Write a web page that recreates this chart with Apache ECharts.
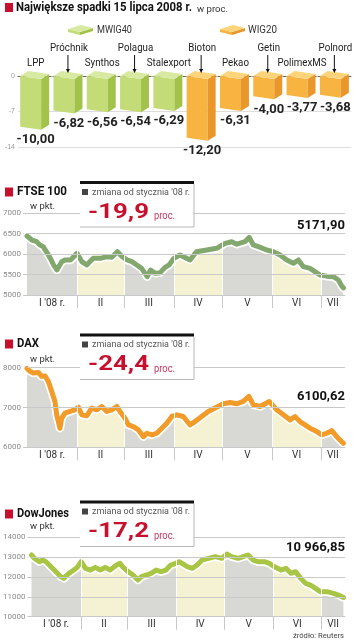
<!DOCTYPE html>
<html><head><meta charset="utf-8">
<script src="https://cdn.jsdelivr.net/npm/echarts@6/dist/echarts.min.js"></script>
<style>html,body{margin:0;padding:0;background:#fff}#c{width:353px;height:640px}</style>
</head><body><div id="c"></div><script>
// ---------- DATA ----------
const barCategories = ['LPP','Próchnik','Synthos','Polagua','Stalexport','Bioton','Pekao','Getin','PolimexMS','Polnord'];
const barValues = [-10.00,-6.82,-6.56,-6.54,-6.29,-12.20,-6.31,-4.00,-3.77,-3.68];
const barGroups = ['MWIG40','MWIG40','MWIG40','MWIG40','MWIG40','WIG20','WIG20','WIG20','WIG20','WIG20'];
const barLabelRaised = [false,true,false,true,false,true,false,true,false,true];
const barTicks = [0,-7,-14];

const monthLabels = ["I '08 r.",'II','III','IV','V','VI','VII'];
const monthStarts = [0,31,60,91,121,152,182,197]; // day-of-year boundaries

const ftseX = [0,3,6,8,10,12,14.5,16.5,18.5,19.5,21.5,23.5,27,31,34,37,41,45.5,49.5,52.5,56,59,62,65,68,71,74.5,76.5,79.5,82.5,85.5,88,91,94.8,101,105,111.3,117.5,122.7,126.8,130,135,137.7,140.2,143.3,148.5,152.6,156.8,160.9,165,168.1,171.2,175.3,178.4,181.5,185.7,189.8,192.9,195,196];
const ftseY = [6439,6341,6300,6220,6180,6057,5894,5732,5610,5650,5813,5854,5854,6016,5813,5732,5894,5894,5935,5920,6057,5935,5854,5813,5732,5650,5447,5610,5528,5545,5675,5732,5894,5976,5854,6057,6098,6138,6260,6300,6240,6300,6405,6220,6180,6098,6057,5976,5854,5772,5854,5691,5650,5569,5488,5460,5447,5366,5220,5171.90];

const daxX = [0,1.9,3.9,7,9.1,11.2,13.2,15.3,17.3,18.4,20.4,21.5,23.5,26.6,29.7,31.8,33.9,37,40.1,43.2,46.3,49.4,52.5,55.6,57.6,60.7,62.8,65.9,69,72.1,74.2,77.3,80.4,83.5,86.6,89.7,92.8,96.8,101,104.1,108.2,112.3,116.5,121.6,125.8,129.9,134,137.5,140.2,144.4,150.1,154.7,158.8,163,166,169.1,172.2,175.3,179.5,182.6,185.7,188.8,191.9,195,196];
const daxY = [7980,7909,7868,7880,7783,7790,7657,7404,7152,6816,6480,6732,6859,6900,6942,7010,6816,6790,6985,6942,7026,6900,6942,7026,6900,6732,6563,6521,6437,6268,6353,6311,6353,6480,6605,6774,6816,6774,6563,6647,6774,6900,6985,7093,7127,7093,7152,7278,7068,7026,7152,6942,6816,6689,6774,6647,6563,6480,6395,6311,6353,6420,6268,6140,6100.62];

const djX = [0,1.9,5,7,9.1,11.2,13.2,16.3,18.4,20.4,23.5,26.6,28.7,31.2,33.9,37,40.1,43.2,46.3,49.4,53.5,55.6,57.6,60.7,63.8,66.9,69,72.1,75.2,78.3,81.4,84.5,87.5,90.6,92.8,97.9,101,104.1,107.2,111.3,115.4,119.6,122.7,125.8,129.9,133,136.1,139.2,142.3,146.4,149.5,152.6,156.8,159.9,163,166,169.1,172.2,175.3,178.4,181.5,185.7,189.8,192.9,196];
const djY = [13108,12940,12771,12855,12771,12604,12436,12184,12016,11932,12184,12352,12486,12771,12436,12352,12486,12352,12486,12352,12604,12687,12486,12268,12100,11848,12016,12100,12184,12352,12268,12352,12604,12687,12771,12519,12436,12604,12855,12940,13024,12940,13158,13024,12940,13024,13108,12855,12771,12771,12687,12519,12352,12436,12184,12268,11932,11680,11596,11428,11260,11260,11176,11092,10966.85];

const ftseTicks = [5000,5500,6000,6500,7000];
const daxTicks = [6000,7000,8000];
const djTicks = [10000,11000,12000,13000,14000];

// ---------- STYLE ----------
const FONT = 'Roboto';
const RED = '#c8102e';
const bandGray = '#d8d8d4', bandYellow = '#f4f2d2';
const cubeColors = {
  MWIG40: {top:'#d8eaa2', front:'#c3dc78', side:'#a3c249'},
  WIG20: {top:'#fdd47a', front:'#f7b440', side:'#e9962a'}
};
const mctx = document.createElement('canvas').getContext('2d');
function fitScale(text, font, w){ mctx.font = font; const m = mctx.measureText(text).width; return m ? w / m : 1; }

function pairs(xs, ys){ return xs.map((x,i)=>[x, ys[i]]); }

const chart = echarts.init(document.getElementById('c'), null, {renderer:'canvas'});

const nameFont = '10.5px ' + FONT;
const nameScale = fitScale('Próchnik', nameFont, 38);

function renderCube(params, api){
  const i = api.value(0), v = api.value(1);
  const p0 = api.coord([i, 0]), p1 = api.coord([i, v]);
  const cx = p0[0], yt = p0[1], yb = p1[1];
  const fw = 21, sw = 8, s1 = 3, s2 = 5;
  const xL = cx - (fw+sw)/2, xM = xL + fw, xR = xM + sw;
  const c = cubeColors[barGroups[i]];
  const children = [
    {type:'polygon', shape:{points:[[xL,yt],[xM,yt+s1],[xM,yb+s1],[xL,yb]]}, style:{fill:c.front}},
    {type:'polygon', shape:{points:[[xM,yt+s1],[xR,yt+s1-s2],[xR,yb+s1-s2],[xM,yb+s1]]}, style:{fill:c.side}},
    {type:'polygon', shape:{points:[[xL,yt],[xM,yt+s1],[xR,yt+s1-s2],[xL+sw,yt-s2]]}, style:{fill:c.top}},
    {type:'text', x:cx+1, y:yb+13, style:{text: v.toFixed(2).replace('.',','), font:'bold 13px '+FONT, fill:'#222', align:'center', verticalAlign:'middle'}}
  ];
  const raised = barLabelRaised[i];
  children.push({type:'text', x:cx+1, y: yt + (raised ? -28 : -13), scaleX:nameScale, style:{text: barCategories[i], font:nameFont, fill:'#222', align:'center', verticalAlign:'middle'}});
  if (raised) {
    children.push({type:'line', shape:{x1:cx, y1:yt-21, x2:cx, y2:yt-6}, style:{stroke:'#111', lineWidth:1}});
    children.push({type:'polygon', shape:{points:[[cx-2,yt-7],[cx+2,yt-7],[cx,yt-3]]}, style:{fill:'#111'}});
  }
  return {type:'group', children};
}

const panels = [
  {x: ftseX, y: ftseY, ticks: ftseTicks, min:5000, max:7000, interval:500, top:213, height:82, color:'#82a86e'},
  {x: daxX, y: daxY, ticks: daxTicks, min:6000, max:8000, interval:1000, top:367.7, height:79.6, color:'#f29b28'},
  {x: djX, y: djY, ticks: djTicks, min:10000, max:14000, interval:1000, top:537.3, height:79.4, color:'#a8c544'}
];

const grids = [{left:18, right:2, top:76, height:71}];
const xAxes = [{gridIndex:0, type:'category', data:barCategories, axisLine:{onZero:true, lineStyle:{color:'#666', type:[3,2], width:1}}, axisTick:{show:false}, axisLabel:{show:false}}];
const yAxes = [{gridIndex:0, type:'value', min:-14, max:0, interval:7, axisLine:{show:false}, axisTick:{show:false},
  splitLine:{show:true, lineStyle:{color:'#ddd'}}, axisLabel:{fontSize:7, color:'#999', margin:3, formatter:v=>String(v)}}];
const series = [{type:'custom', xAxisIndex:0, yAxisIndex:0, clip:false, renderItem:renderCube, data: barValues.map((v,i)=>[i,v]), z:5}];
const visualMaps = [];

const mids = monthStarts.slice(0,-1).map((s,i)=>(s+monthStarts[i+1])/2);
panels.forEach((p, k) => {
  const gi = k+1;
  grids.push({left:27, right:8, top:p.top, height:p.height});
  xAxes.push({gridIndex:gi, type:'value', min:0, max:197,
    axisLine:{show:true, onZero:false, lineStyle:{color:'#c4c4c4'}},
    splitLine:{show:false},
    axisTick:{show:true, customValues: monthStarts.slice(1,-1), length:13, lineStyle:{color:'#c8c8c8'}},
    axisLabel:{customValues: mids, fontSize:10, color:'#333', margin:3, fontFamily:FONT,
      formatter: v => { const i = mids.findIndex(m => Math.abs(m-v) < 0.01); return i>=0 ? monthLabels[i] : ''; }}
  });
  yAxes.push({gridIndex:gi, type:'value', min:p.min, max:p.max, interval:p.interval,
    axisLine:{show:false}, splitLine:{show:false},
    axisTick:{show:true, length:4, lineStyle:{color:'#c8c8c8'}},
    axisLabel:{fontSize:8, color:'#8a8a8a', margin:6, fontFamily:FONT, formatter:v=>String(v)}});
  const data = pairs(p.x, p.y);
  const areaIdx = series.length;
  const vlines = monthStarts.slice(1,-1).map(d => ({xAxis:d, lineStyle:{color:'#ffffff', width:1, type:'solid'}}));
  const hlines = p.ticks.map(t => ({yAxis:t, lineStyle:{color:'#c9c9c9', width:1, type:'solid'}}));
  series.push({type:'line', xAxisIndex:gi, yAxisIndex:gi, data, symbol:'none', smooth:false,
    lineStyle:{width:0, opacity:0}, areaStyle:{opacity:1}, z:1, silent:true,
    markLine:{silent:true, symbol:['none','none'], label:{show:false}, animation:false, data: vlines.concat(hlines)}});
  series.push({type:'line', xAxisIndex:gi, yAxisIndex:gi, data, symbol:'none', lineStyle:{color:'#ffffff', width:8.5, join:'round', cap:'round'}, z:3, silent:true});
  series.push({type:'line', xAxisIndex:gi, yAxisIndex:gi, data, symbol:'none', lineStyle:{color:p.color, width:5, join:'round', cap:'round'}, z:4, silent:true});
  visualMaps.push({type:'piecewise', show:false, dimension:0, seriesIndex:areaIdx,
    pieces: monthStarts.slice(0,-1).map((s,i)=>({gte:s, lt: (i===6? 1000 : monthStarts[i+1]), color: i%2===0 ? bandGray : bandYellow}))});
});

// ---------- GRAPHIC (titles, boxes, legend) ----------
const g = [];
function T(x,y,text,font,fill,align,w){
  const el = {type:'text', x, y, z:100, style:{text, font, fill, align:align||'left', verticalAlign:'middle'}};
  if (w) el.scaleX = fitScale(text, font, w);
  g.push(el);
}
function R(x,y,w,h,fill){ g.push({type:'rect', z:100, shape:{x,y,width:w,height:h}, style:{fill}}); }

R(5,3,8,9,RED);
T(16,8,'Największe spadki 15 lipca 2008 r.','bold 13px '+FONT,'#111','left',176);
T(197,9.5,'w proc.','9px '+FONT,'#333','left',31);

function legendIcon(x, y, c){
  g.push({type:'polygon', z:100, shape:{points:[[x,y+4],[x+12,y+7],[x+12,y+10],[x,y+7]]}, style:{fill:c.front}});
  g.push({type:'polygon', z:100, shape:{points:[[x+12,y+7],[x+25,y+3],[x+25,y+6],[x+12,y+10]]}, style:{fill:c.side}});
  g.push({type:'polygon', z:100, shape:{points:[[x,y+4],[x+12,y+7],[x+25,y+3],[x+13,y]]}, style:{fill:c.top}});
}
legendIcon(68,25,cubeColors.MWIG40); T(97,30.5,'MWIG40','10px '+FONT,'#333','left',35);
legendIcon(220,25,cubeColors.WIG20); T(248,30.5,'WIG20','10px '+FONT,'#333','left',29);

const panelTexts = [
  {title:'FTSE 100', tw:50, ty:192, boxTop:181, change:'-19,9', value:'5171,90', vw:48, vy:226},
  {title:'DAX', tw:22, ty:344, boxTop:333.5, change:'-24,4', value:'6100,62', vw:48, vy:396.7},
  {title:'DowJones', tw:52, ty:514, boxTop:500.5, change:'-17,2', value:'10 966,85', vw:59, vy:548.3}
];
panelTexts.forEach(p => {
  R(5, p.ty-4.5, 8, 9, RED);
  T(17, p.ty, p.title, 'bold 12.5px '+FONT, '#111', 'left', p.tw);
  const b = p.boxTop;
  R(80, b, 114, 46, '#ffffff');
  g.push({type:'polyline', z:100, shape:{points:[[194,b+3],[194,b+46],[80,b+46]]}, style:{stroke:'#b8b8b8', lineWidth:1, fill:null}});
  R(80, b, 114, 3, '#111');
  R(82, b+8, 6, 6, '#444');
  T(92, b+11.5, "zmiana od stycznia '08 r.", '9.5px '+FONT, '#555', 'left', 98);
  T(88, b+31.5, p.change, 'bold 21px '+FONT, RED, 'left', 61);
  T(154, b+35.5, 'proc.', '10px '+FONT, '#c23a5e', 'left', 21);
  T(30, b+26, 'w pkt.', '9.5px '+FONT, '#333', 'left', 25);
  T(345, p.vy, p.value, 'bold 12.5px '+FONT, '#111', 'right', p.vw);
});
T(344, 636, 'źródło: Reuters', '8px '+FONT, '#444', 'right', 51);

chart.setOption({
  animation:false,
  backgroundColor:'#fff',
  grid: grids, xAxis: xAxes, yAxis: yAxes, series, visualMap: visualMaps,
  graphic: {elements: g}
});
</script></body></html>
